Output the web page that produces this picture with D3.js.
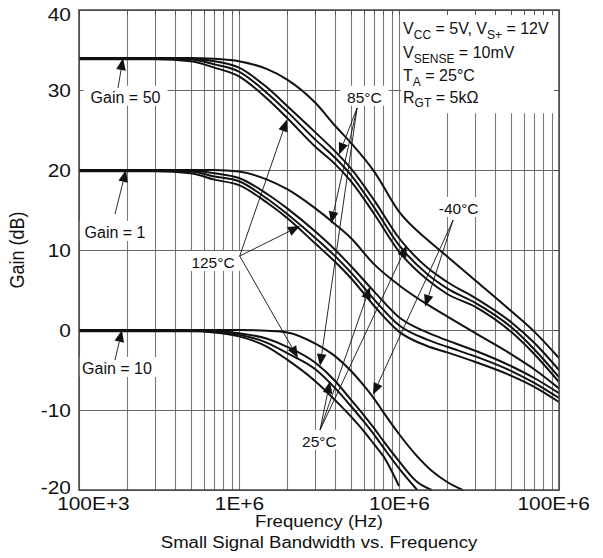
<!DOCTYPE html>
<html>
<head>
<meta charset="utf-8">
<script src="https://cdn.jsdelivr.net/npm/d3@7"></script>
<style>
  body { margin: 0; background: #fff; }
  svg { display: block; font-family: "Liberation Sans", Arial, Helvetica, sans-serif; }
</style>
</head>
<body>
<div id="chart"></div>
<script>
// frequency grids (Hz)
var freqHigh = [1e5, 3e5, 5e5, 7e5, 1e6, 1.5e6, 2e6, 3e6, 4e6, 5e6, 7e6, 1e7, 1.5e7, 2e7, 3e7, 5e7, 7e7, 1e8];
var freqLow = [1e5, 3e5, 5e5, 7e5, 1e6, 1.5e6, 2e6, 3e6, 4e6, 5e6, 6e6, 7e6, 8e6, 1e7, 1.3e7, 1.6e7, 2e7, 2.5e7];

// Gain = 50 curves (dB), on freqHigh
var gain50 = [
    [34, 34, 34, 33.9, 33.6, 32.6, 31.3, 28.4, 25.5, 23.4, 19.8, 14.8, 11.3, 9.2, 6.2, 2.4, -0.2, -3.5],
    [34, 34, 33.9, 33.6, 32.8, 30.3, 28.0, 24.7, 22.3, 20.2, 16.2, 11.5, 7.8, 6.0, 4.0, 1.0, -1.6, -5.0],
    [33.9, 33.9, 33.8, 33.2, 32.3, 29.6, 27.3, 23.8, 21.5, 19.4, 15.3, 10.6, 7.0, 5.2, 3.4, 0.4, -2.4, -5.9],
    [33.85, 33.85, 33.6, 32.8, 31.7, 28.9, 26.5, 22.9, 20.7, 18.6, 14.5, 9.8, 6.3, 4.5, 2.9, -0.2, -3.0, -6.5]
];

// Gain = 1 curves (dB), on freqHigh
var gain1 = [
    [20, 20, 20, 20, 19.8, 18.8, 17.6, 15.2, 13.2, 11.5, 8.2, 5.6, 3.2, 1.7, -0.4, -3.0, -4.9, -7.3],
    [20, 20, 19.9, 19.6, 19.0, 17.0, 15.2, 12.3, 10.0, 8.0, 4.8, 1.6, -0.3, -1.3, -2.6, -4.5, -6.0, -7.9],
    [19.9, 19.9, 19.8, 19.2, 18.6, 16.4, 14.5, 11.5, 9.2, 7.2, 3.8, 0.6, -1.2, -2.1, -3.3, -5.1, -6.6, -8.5],
    [19.85, 19.85, 19.6, 18.8, 18.1, 15.9, 14.0, 10.8, 8.5, 6.5, 3.0, -0.2, -2.0, -2.8, -4.0, -5.7, -7.1, -9.0]
];

// Gain = 10 curves (dB), on freqLow (they run off the bottom at -20 dB)
var gain10 = [
    [0, 0, 0, 0, 0, -0.1, -0.3, -1.7, -3.3, -5.1, -6.9, -8.6, -10.3, -13.0, -15.8, -17.6, -19.0, -20],
    [0, 0, 0, -0.1, -0.4, -1.1, -2.1, -4.1, -6.4, -8.7, -10.6, -12.3, -13.9, -16.4, -19.0, -20],
    [-0.1, -0.1, -0.1, -0.2, -0.6, -1.6, -2.9, -4.9, -7.3, -9.5, -11.4, -13.1, -14.7, -17.3, -20],
    [-0.15, -0.15, -0.15, -0.3, -0.8, -2.1, -3.7, -6.4, -8.8, -10.8, -12.6, -14.3, -15.8, -19.5]
];

// axis ticks
var xTickVals = [1e5, 1e6, 1e7, 1e8];
var xTickLabels = ["100E+3", "1E+6", "10E+6", "100E+6"];
var yTickVals = [-20, -10, 0, 10, 20, 30, 40];
var yTickLabels = ["-20", "-10", "0", "10", "20", "30", "40"];

// gain annotations: label (centre, baseline), arrow start, arrow tip  [Hz, dB]
var gainLabels = ["Gain = 50", "Gain = 1", "Gain = 10"];
var gainLabelPos = [[1.953e5, 28.4], [1.679e5, 11.5], [1.728e5, -5.5]];
var gainFrom = [[1.753e5, 30.25], [1.679e5, 14.5], [1.679e5, -3.75]];
var gainTips = [[1.884e5, 34], [1.967e5, 20], [1.857e5, 0]];

// temperature annotations
var tempLabels = ["125°C", "85°C", "25°C", "-40°C"];
var tempLabelPos = [[6.88e5, 7.75], [6.08e6, 28.4], [3.18e6, -14.6], [2.36e7, 14.5]];
var tempFrom = [[1.01e6, 9.25], [5.47e6, 27.75], [3.21e6, -12.5], [2.18e7, 13.75]];
var tempTips = [
    [[1.995e6, 26.3], [2.406e6, 13.0], [2.337e6, -3.5]],
    [[4.217e6, 21.9], [3.758e6, 13.3], [3.208e6, -4.5]],
    [[3.704e6, -6.4], [6.588e6, 5.4], [1.122e7, 10.6]],
    [[1.454e7, 2.9], [6.88e6, -8.1]]
];

// test conditions box (text pieces: [text, isSubscript])
var condLines = [
    [["V", 0], ["CC", 1], [" = 5V, V", 0], ["S+", 1], [" = 12V", 0]],
    [["V", 0], ["SENSE", 1], [" = 10mV", 0]],
    [["T", 0], ["A", 1], [" = 25°C", 0]],
    [["R", 0], ["GT", 1], [" = 5kΩ", 0]]
];
var condX = 1.06e7;
var condY = [37, 34, 31.1, 28.4];
var condBox = [1.03e7, 1e8, 40, 27.1];

var W = 603, H = 558;

var x = d3.scaleLog().domain([1e5, 1e8]).range([79, 559]);
var y = d3.scaleLinear().domain([-20, 40]).range([490, 10]);

var svg = d3.select("#chart").append("svg")
    .attr("width", W)
    .attr("height", H);

// grid
var grid = svg.append("g");
grid.selectAll(".gx")
    .data(x.ticks())
    .enter()
    .append("line")
    .attr("x1", d => Math.round(x(d)) + 0.5)
    .attr("x2", d => Math.round(x(d)) + 0.5)
    .attr("y1", y(-20))
    .attr("y2", y(40))
    .attr("stroke", "#777")
    .attr("stroke-width", 1.1);

grid.selectAll(".gy")
    .data(yTickVals)
    .enter()
    .append("line")
    .attr("x1", x(1e5))
    .attr("x2", x(1e8))
    .attr("y1", d => Math.round(y(d)) + 0.5)
    .attr("y2", d => Math.round(y(d)) + 0.5)
    .attr("stroke", "#666")
    .attr("stroke-width", 1.1);

var labelBg = svg.append("g");
var tickG = svg.append("g");
var curveG = svg.append("g");
var arrowG = svg.append("g");
var labelG = svg.append("g");

// conditions box
labelBg.append("rect")
    .attr("x", x(condBox[0]))
    .attr("y", y(condBox[2]) + 1)
    .attr("width", x(condBox[1]) - x(condBox[0]) - 1)
    .attr("height", y(condBox[3]) - y(condBox[2]) - 1)
    .attr("fill", "#fff");

// small inward ticks on top and right border (show through the box)
tickG.selectAll(".tt")
    .data(x.ticks())
    .enter()
    .append("line")
    .attr("x1", d => Math.round(x(d)) + 0.5)
    .attr("x2", d => Math.round(x(d)) + 0.5)
    .attr("y1", y(40))
    .attr("y2", y(40) + 5)
    .attr("stroke", "#555");
tickG.selectAll(".tr")
    .data(yTickVals)
    .enter()
    .append("line")
    .attr("x1", x(1e8) - 5)
    .attr("x2", x(1e8))
    .attr("y1", d => Math.round(y(d)) + 0.5)
    .attr("y2", d => Math.round(y(d)) + 0.5)
    .attr("stroke", "#555");

// curves
var line = d3.line()
    .x(d => x(d[0]))
    .y(d => y(d[1]))
    .curve(d3.curveMonotoneX);

function drawGroup(freqs, group) {
    group.forEach(function(vals) {
        var pts = vals.map((v, i) => [freqs[i], v]);
        curveG.append("path")
            .datum(pts)
            .attr("d", line)
            .attr("fill", "none")
            .attr("stroke", "#111")
            .attr("stroke-width", 2);
    });
}
drawGroup(freqHigh, gain50);
drawGroup(freqHigh, gain1);
drawGroup(freqLow, gain10);

// frame
svg.append("rect")
    .attr("x", x(1e5))
    .attr("y", y(40))
    .attr("width", x(1e8) - x(1e5))
    .attr("height", y(-20) - y(40))
    .attr("fill", "none")
    .attr("stroke", "#444")
    .attr("stroke-width", 1.5);

// arrows
function drawArrow(from, to) {
    var x0 = x(from[0]), y0 = y(from[1]);
    var x1 = x(to[0]), y1 = y(to[1]);
    var a = Math.atan2(y1 - y0, x1 - x0);
    var L = 12, hw = 4.8;
    var bx = x1 - L * Math.cos(a), by = y1 - L * Math.sin(a);
    arrowG.append("line")
        .attr("x1", x0).attr("y1", y0)
        .attr("x2", bx).attr("y2", by)
        .attr("stroke", "#111")
        .attr("stroke-width", 0.9);
    arrowG.append("path")
        .attr("d", "M" + x1 + "," + y1 +
            "L" + (bx - hw * Math.sin(a)) + "," + (by + hw * Math.cos(a)) +
            "L" + (bx + hw * Math.sin(a)) + "," + (by - hw * Math.cos(a)) + "Z")
        .attr("fill", "#111");
}

function addLabel(txt, pos, size) {
    var t = labelG.append("text")
        .attr("x", x(pos[0]))
        .attr("y", y(pos[1]))
        .attr("text-anchor", "middle")
        .attr("font-size", size)
        .attr("fill", "#111")
        .text(txt);
    var b = t.node().getBBox();
    labelBg.append("rect")
        .attr("x", b.x - 7)
        .attr("y", b.y - 3)
        .attr("width", b.width + 14)
        .attr("height", b.height + 3)
        .attr("fill", "#fff");
}

gainLabels.forEach(function(txt, i) {
    addLabel(txt, gainLabelPos[i], 16);
    drawArrow(gainFrom[i], gainTips[i]);
});

tempLabels.forEach(function(txt, i) {
    addLabel(txt, tempLabelPos[i], 15.5);
    tempTips[i].forEach(function(tip) {
        drawArrow(tempFrom[i], tip);
    });
});

// conditions text
condLines.forEach(function(parts, i) {
    var t = labelG.append("text")
        .attr("x", x(condX))
        .attr("y", y(condY[i]))
        .attr("font-size", 16)
        .attr("fill", "#111")
        .style("white-space", "pre");
    var sub = false;
    parts.forEach(function(p) {
        var ts = t.append("tspan").text(p[0]);
        if (p[1] && !sub) { ts.attr("dy", 4.5).attr("font-size", 12); sub = true; }
        else if (p[1]) { ts.attr("font-size", 12); }
        else if (sub) { ts.attr("dy", -4.5); sub = false; }
    });
});

// axes
var xAxis = svg.append("g")
    .attr("transform", "translate(0," + y(-20) + ")")
    .call(d3.axisBottom(x).tickValues(xTickVals).tickFormat((d, i) => xTickLabels[i]).tickSize(0));
xAxis.select(".domain").remove();
xAxis.selectAll("text")
    .attr("font-size", 18)
    .attr("font-family", "Liberation Sans, Arial, sans-serif")
    .attr("fill", "#111")
    .attr("y", 20)
    .attr("dy", 0)
    .attr("x", (d, i) => i === 0 ? 12 : (i === xTickVals.length - 1 ? -5 : 0))
    .attr("transform", "scale(1.16,1)");

// end labels sit a little inside the frame
var yShift = {"-20": -3, "40": 4};
var yAxis = svg.append("g")
    .attr("transform", "translate(" + x(1e5) + ",0)")
    .call(d3.axisLeft(y).tickValues(yTickVals).tickFormat((d, i) => yTickLabels[i]).tickSize(0));
yAxis.select(".domain").remove();
yAxis.selectAll("text")
    .attr("font-size", 18)
    .attr("font-family", "Liberation Sans, Arial, sans-serif")
    .attr("fill", "#111")
    .attr("x", -7)
    .attr("y", d => yShift[d] || 0)
    .attr("dy", "0.36em")
    .attr("transform", "scale(1.16,1)");

// titles
svg.append("text")
    .attr("transform", "translate(" + ((x(1e5) + x(1e8)) / 2) + ",527) scale(1.16,1)")
    .attr("text-anchor", "middle")
    .attr("font-size", 16)
    .attr("fill", "#111")
    .text("Frequency (Hz)");

svg.append("text")
    .attr("transform", "translate(" + ((x(1e5) + x(1e8)) / 2) + ",548) scale(1.16,1)")
    .attr("text-anchor", "middle")
    .attr("font-size", 16)
    .attr("fill", "#111")
    .text("Small Signal Bandwidth vs. Frequency");

svg.append("text")
    .attr("transform", "translate(24," + ((y(-20) + y(40)) / 2) + ") rotate(-90) scale(1,1.1)")
    .attr("text-anchor", "middle")
    .attr("font-size", 18)
    .attr("fill", "#111")
    .text("Gain (dB)");
</script>
</body>
</html>
